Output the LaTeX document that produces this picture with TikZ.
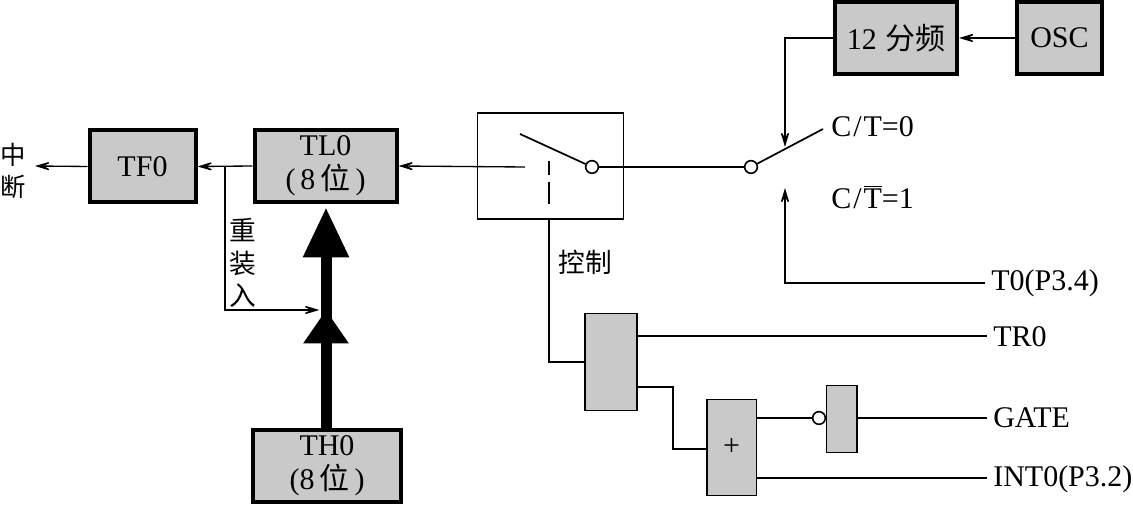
\documentclass[tikz,border=0pt]{standalone}
\usepackage{fontspec}
\setmainfont{Liberation Serif}
\newfontfamily\cjk{Noto Sans CJK SC}
\usetikzlibrary{arrows.meta}
\definecolor{boxgray}{gray}{0.79}
\tikzset{
	>={Stealth[length=15pt,width=9pt,inset=8.5pt]},
	thickbox/.style={draw, line width=3pt, fill=boxgray, inner sep=0pt, align=center, font=\fontsize{22.5}{25.5}\selectfont},
	gatebox/.style={draw, line width=1pt, fill=boxgray, inner sep=0pt, font=\fontsize{22.5}{25}\selectfont},
	bubble/.style={draw, circle, line width=1.2pt, fill=white, minimum size=9.5pt, inner sep=0pt},
	wire/.style={line width=1pt},
	sig/.style={anchor=west, inner sep=4.5pt, font=\fontsize{22.5}{25}\selectfont},
	word/.style={inner sep=0pt, font=\fontsize{20}{25}\selectfont\cjk},
	bigarrow/.style={line width=8.25pt, -{Triangle[length=#1]}},
}
\begin{document}
\begin{tikzpicture}[x=0.75pt, y=-0.75pt]
		\useasboundingbox (0,0) rectangle (1133,505);
		%registers
		\node[thickbox, minimum width=79.5pt, minimum height=54pt] (TF0) at (142.5,166.5) {TF0};
		\node[thickbox, minimum width=106.5pt, minimum height=54pt] (TL0) at (325.5,166) {TL0\\(\,8\,{\cjk 位}\,)};
		\node[thickbox, minimum width=110.5pt, minimum height=54pt] (TH0) at (327,466) {TH0\\(8\,{\cjk 位}\,)};
		\node[thickbox, minimum width=91.5pt, minimum height=54pt] (div12) at (896,38) {12\;{\cjk 分频}};
		\node[thickbox, minimum width=63.5pt, minimum height=54pt] (OSC) at (1059.5,38) {OSC};
		%gates
		\node[gatebox, minimum width=39pt, minimum height=73pt] (andgate) at (611,362) {};
		\node[gatebox, minimum width=37pt, minimum height=72pt] (orgate) at (731.5,447.5) {+};
		\node[gatebox, minimum width=23pt, minimum height=50.5pt] (notgate) at (841.5,419) {};
		\node[bubble] (notdot) at (819,418) {};
		%switches
		\node[draw, line width=0.9pt, minimum width=110pt, minimum height=79.5pt, inner sep=0pt] (swbox) at (550.5,166) {};
		\node[bubble] (rundot) at (592,167) {};
		\node[bubble] (seldot) at (751,167) {};
		\coordinate (runleft) at (525,167);
		\coordinate (runblade) at (520,134);
		\coordinate (selblade) at (823,129);
		\coordinate (seltop) at (785,147);
		\coordinate (selbot) at (785,188);
		\coordinate (ctrltop) at (549,161);
		\coordinate (midtip) at (326,310);
		\coordinate (reload) at (225,167);
		\coordinate (intout) at (35,166);
		%labels
		\node[word, font=\fontsize{19}{25}\selectfont\cjk] (zhong) at (13,155) {中};
		\node[word, font=\fontsize{19}{25}\selectfont\cjk] (duan) at (13,187) {断};
		\node[word] (zhuang1) at (243,230) {重};
		\node[word] (zhuang2) at (243,263) {装};
		\node[word] (zhuang3) at (243,296) {入};
		\node[word] (ctrl) at (585,262) {控制};
		\node[sig] (ct0) at (825,127) {C\kern1.5pt/\kern1.5pt T=0};
		\node[sig] (ct1) at (825,197) {C\kern1.5pt/\kern1.5pt$\overline{\mbox{T}}$=1};
		\node[sig] (T0) at (985,283) {T0(P3.4)};
		\node[sig] (TR0) at (987,337) {TR0};
		\node[sig] (GATE) at (987,418) {GATE};
		\node[sig] (INT0) at (987,479) {INT0(P3.2)};
		%clock path
		\draw[wire, ->] (OSC.west) -- (div12.east);
		\draw[wire, ->] (div12.west) -| (seltop);
		\draw[wire, ->] (T0.west) -| (selbot);
		\draw[wire] (rundot) -- (seldot);
		\draw[wire, line width=1.3pt] (seldot) -- (selblade);
		\draw[wire, line width=1.3pt] (rundot) -- (runblade);
		\draw[wire, ->] (runleft) -- (TL0.east);
		\draw[wire, ->] (TL0.west) -- (TF0.east);
		\draw[wire, ->] (TF0.west) -- (intout);
		%reload
		\draw[bigarrow=37.5pt, shorten >=2.5pt] (TH0.north -| midtip) -- (TL0.south -| midtip);
		\draw[bigarrow=25pt] (TH0.north -| midtip) -- (midtip);
		\draw[wire, ->] (reload) |- ([xshift=-5pt]midtip);
		%control
		\draw[wire, dash pattern=on 10.5pt off 5pt on 17pt off 10pt] (ctrltop) -- (swbox.south -| ctrltop);
		\draw[wire] (swbox.south -| ctrltop) |- (andgate.west);
		\draw[wire] (TR0.west |- 0,336) -- (andgate.east |- 0,336);
		\draw[wire] ([yshift=-18.75pt]andgate.east) -| (673,449) -- (orgate.west |- 673,449);
		\draw[wire] (notdot) -- (notdot -| orgate.east);
		\draw[wire] (GATE.west) -- (GATE.west -| notgate.east);
		\draw[wire] (INT0.west |- 0,478) -- (orgate.east |- 0,478);
		\end{tikzpicture}
\end{document}
